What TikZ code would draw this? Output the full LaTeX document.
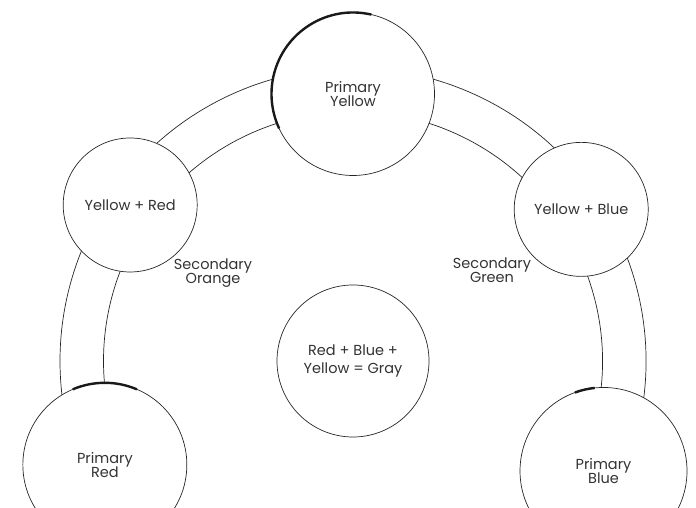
\documentclass[tikz,border=0pt]{standalone}
\usepackage{fontspec}
\setmainfont{Poppins}
\usetikzlibrary{positioning}
\tikzset{
x=1pt, y=1pt, % one unit is one pixel of the page
thin line/.style={line width=0.7pt, black!85},
label text/.style={align=center, text=black!80, font=\fontsize{14.5}{14.5}\selectfont},
hue/.style={circle, draw, thin line, fill=white, inner sep=0pt, label text}, % sets the properties for each colour circle
primary/.style={hue, minimum size=163pt},
secondary/.style={hue, minimum size=134pt},
mixed/.style={hue, minimum size=152pt},
heavy/.style={line width=2.4pt, black!90}, % the thick strokes on the primaries
}

\begin{document}
\begin{tikzpicture}
    \useasboundingbox (0,0) rectangle (696,508);
    \clip (0,0) rectangle (696,508);
    \coordinate (C) at (353,147);

    % the band of the wheel
    \draw[thin line] ([shift={(-24:293)}]C) arc[start angle=-24, end angle=204, radius=293pt];
    \draw[thin line] ([shift={(-24:249.5)}]C) arc[start angle=-24, end angle=204, radius=249.5pt];

    \node[mixed, font=\fontsize{14.5}{18.5}\selectfont] (gray) at (C) {Red + Blue +\\Yellow = Gray};
    \node[primary] (yel) at ([shift={(90:267)}]C) {Primary\\Yellow};
    \node[secondary] (orange) at ([shift={(145:272)}]C) {Yellow + Red};
    \node[secondary] (green) at ([shift={(33.6:274)}]C) {Yellow + Blue};
    \node[primary, minimum size=164pt] (red) at ([shift={(202.7:269)}]C) {Primary\\Red};
    \node[primary, minimum size=167pt] (blue) at ([shift={(336.3:273.6)}]C) {Primary\\Blue};

    \node[label text] (orangelbl) at (213,235) {Secondary\\Orange};
    \node[label text] (greenlbl) at (492,238) {Secondary\\Green};

    \draw[heavy] (yel.center) ++(77:81.5) arc[start angle=77, end angle=205, radius=81.5pt];
    \draw[heavy] (red.center) ++(67:82) arc[start angle=67, end angle=113, radius=82pt];
    \draw[heavy] (blue.center) ++(96:83.5) arc[start angle=96, end angle=110, radius=83.5pt];

\end{tikzpicture}
\end{document}
